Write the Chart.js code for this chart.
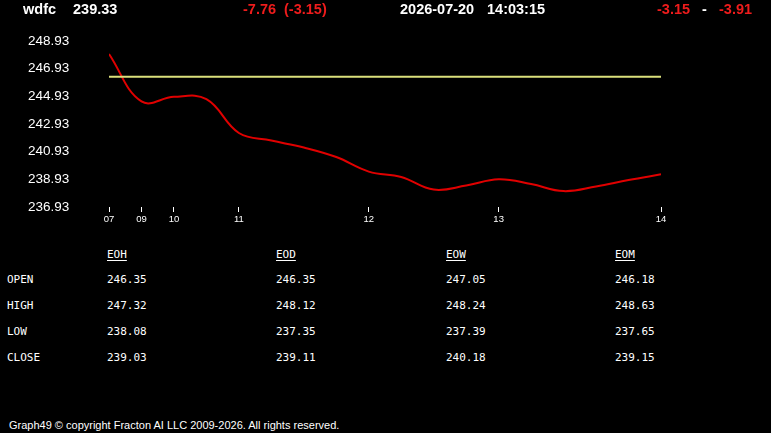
<!DOCTYPE html>
<html>
<head>
<meta charset="utf-8">
<script src="https://cdn.jsdelivr.net/npm/chart.js@4"></script>
<style>
  body { margin: 0; background: #000; width: 771px; height: 433px; overflow: hidden; position: relative; }
  #chartBox { position: absolute; left: 0; top: 0; width: 771px; height: 235px; }
  .hdr { position: absolute; top: 2px; font: bold 14.5px "Liberation Sans", Arial, sans-serif; line-height: 14px; color: #fff; white-space: pre; }
  .red { color: #ee1c1c; }
  .cell { position: absolute; font: 11px "DejaVu Sans Mono", "Liberation Mono", monospace; line-height: 11px; color: #fff; white-space: pre; }
  .colhead { text-decoration: underline; text-underline-offset: 2px; }
  #footer { position: absolute; left: 9px; top: 420px; font: 11px "Liberation Sans", Arial, sans-serif; line-height: 11px; color: #fff; white-space: pre; }
</style>
</head>
<body>
<div id="chartBox"><canvas id="priceChart" width="771" height="235"></canvas></div>
<div id="header"></div>
<div id="table"></div>
<div id="footer">Graph49 © copyright Fracton AI LLC 2009-2026. All rights reserved.</div>

<script>
// header values
const symbol = 'wdfc';
const lastPrice = '239.33';
const change = '-7.76';
const changePct = '(-3.15)';
const quoteDate = '2026-07-20';
const quoteTime = '14:03:15';
const rangeFrom = '-3.15';
const rangeTo = '-3.91';

// chart data (one point per bar, x = bar index)
const hourLabels = ['07', '09', '10', '11', '12', '13', '14'];
const hourTickIndex = [0, 1, 2, 4, 8, 12, 17];
const priceSeries = [247.99, 244.56, 244.90, 244.72, 242.28, 241.73, 241.23, 240.54, 239.49,
                     239.10, 238.19, 238.48, 238.93, 238.59, 238.08, 238.41, 238.88, 239.29];
const openLevel = 246.35;
const yTicks = [236.93, 238.93, 240.93, 242.93, 244.93, 246.93, 248.93];

// table
const tableColumns = ['EOH', 'EOD', 'EOW', 'EOM'];
const rowNames = ['OPEN', 'HIGH', 'LOW', 'CLOSE'];
const openRow = ['246.35', '246.35', '247.05', '246.18'];
const highRow = ['247.32', '248.12', '248.24', '248.63'];
const lowRow = ['238.08', '237.35', '237.39', '237.65'];
const closeRow = ['239.03', '239.11', '240.18', '239.15'];

// header
const header = document.getElementById('header');
function addHdr(text, left, cls) {
  const s = document.createElement('span');
  s.className = 'hdr' + (cls ? ' ' + cls : '');
  s.style.left = left + 'px';
  s.textContent = text;
  header.appendChild(s);
}
addHdr(symbol, 23);
addHdr(lastPrice, 73);
addHdr(change, 243, 'red');
addHdr(changePct, 284, 'red');
addHdr(quoteDate, 400);
addHdr(quoteTime, 487);
addHdr(rangeFrom, 657, 'red');
addHdr('-', 702);
addHdr(rangeTo, 719, 'red');

// table
const table = document.getElementById('table');
const colX = [107, 276, 446, 615];
const rowTop = [274, 300, 326, 352];
function addCell(text, left, top, cls) {
  const d = document.createElement('div');
  d.className = 'cell' + (cls ? ' ' + cls : '');
  d.style.left = left + 'px';
  d.style.top = top + 'px';
  d.textContent = text;
  table.appendChild(d);
}
tableColumns.forEach((c, i) => addCell(c, colX[i], 249, 'colhead'));
[openRow, highRow, lowRow, closeRow].forEach((row, r) => {
  addCell(rowNames[r], 7, rowTop[r]);
  row.forEach((v, i) => addCell(v, colX[i], rowTop[r]));
});

// chart
new Chart(document.getElementById('priceChart'), {
  type: 'line',
  data: {
    datasets: [
      {
        data: priceSeries.map((y, i) => ({ x: i, y: openLevel })),
        borderColor: '#dbe07c',
        borderWidth: 2,
        pointRadius: 0,
        tension: 0
      },
      {
        data: priceSeries.map((y, i) => ({ x: i, y: y })),
        borderColor: '#e00000',
        borderWidth: 2,
        pointRadius: 0,
        tension: 0.4
      }
    ]
  },
  options: {
    responsive: false,
    animation: false,
    layout: { padding: { top: 41, right: 110, left: 28, bottom: 0 } },
    plugins: { legend: { display: false }, tooltip: { enabled: false } },
    scales: {
      x: {
        type: 'linear',
        min: 0,
        max: 17,
        afterBuildTicks: (scale) => { scale.ticks = hourTickIndex.map(v => ({ value: v })); },
        afterFit: (scale) => { scale.height = 28; },
        border: { display: false },
        grid: { drawOnChartArea: false, color: '#fff', tickLength: 5 },
        ticks: {
          color: '#fff',
          font: { family: 'Liberation Sans', size: 9.5 },
          padding: 2,
          maxRotation: 0,
          autoSkip: false,
          callback: (v) => hourLabels[hourTickIndex.indexOf(v)]
        }
      },
      y: {
        min: 236.93,
        max: 248.93,
        afterBuildTicks: (scale) => { scale.ticks = yTicks.map(v => ({ value: v })); },
        afterFit: (scale) => { scale.width = 81; },
        border: { display: false },
        grid: { display: false, drawTicks: false },
        ticks: {
          color: '#fff',
          font: { family: 'Liberation Sans', size: 13.5 },
          padding: 0,
          crossAlign: 'far',
          callback: (v) => v.toFixed(2)
        }
      }
    }
  }
});
</script>
</body>
</html>
